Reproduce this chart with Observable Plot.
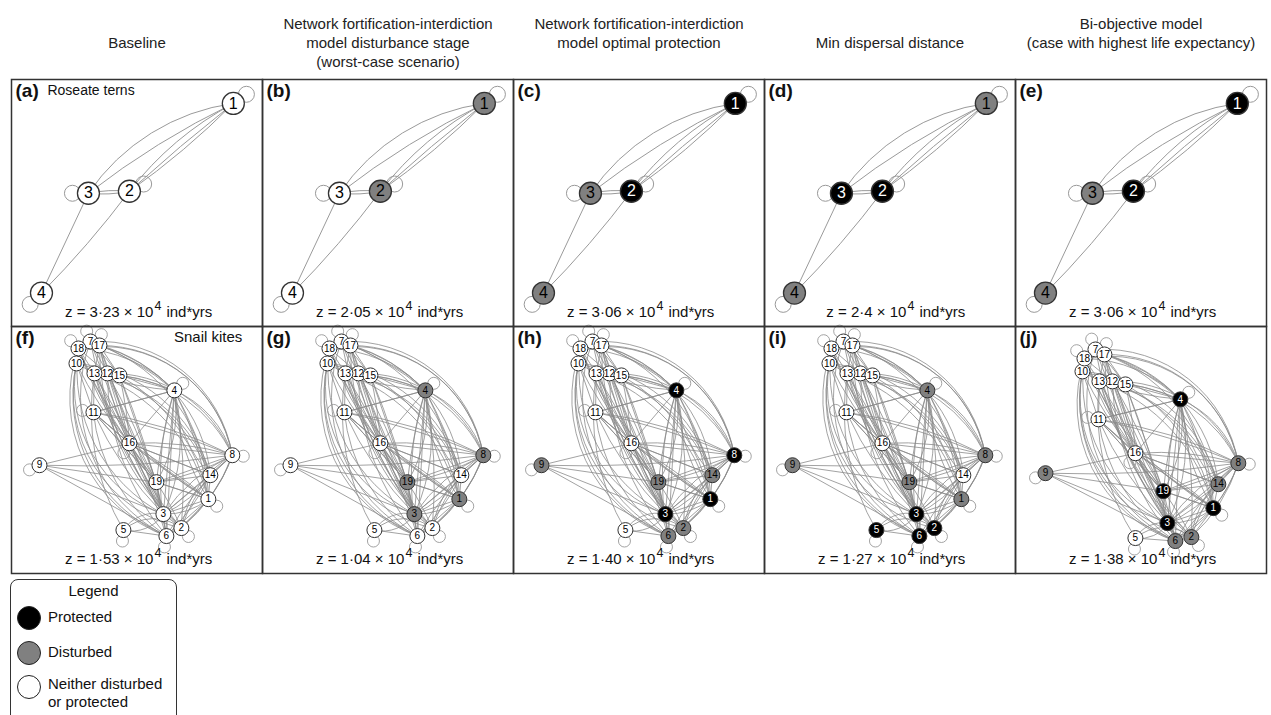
<!DOCTYPE html>
<html><head><meta charset="utf-8">
<script src="https://cdn.jsdelivr.net/npm/d3@7"></script>
<script src="https://cdn.jsdelivr.net/npm/@observablehq/plot@0.6"></script>
<style>
body{margin:0;background:#fff;font-family:"Liberation Sans",Arial,sans-serif;position:relative;width:1271px;height:715px;overflow:hidden;}
#legend{position:absolute;left:10px;top:579px;width:167px;height:170px;border:1.5px solid #333;border-radius:8px;box-sizing:border-box;color:#111;font-size:15px;}
#legend .lt{position:absolute;left:0;width:100%;top:2px;text-align:center;}
#legend .sw{position:absolute;left:6px;width:24px;height:24px;border-radius:50%;border:1.5px solid #222;box-sizing:border-box;}
#legend .tx{position:absolute;left:37px;line-height:18px;}
</style></head><body>
<div id="chart"></div>
<div id="legend">
  <div class="lt">Legend</div>
  <div class="sw" style="top:26px;background:#000"></div><div class="tx" style="top:28px">Protected</div>
  <div class="sw" style="top:61px;background:#808080"></div><div class="tx" style="top:63px">Disturbed</div>
  <div class="sw" style="top:95px;background:#fff"></div><div class="tx" style="top:95px">Neither disturbed<br>or protected</div>
</div>
<script>
// ---------- data ----------
const columns = ["a", "b", "c", "d", "e"];
const rowKeys = ["terns", "kites"];
const titleLines = [
  ["", "Baseline", ""],
  ["Network fortification-interdiction", "model disturbance stage", "(worst-case scenario)"],
  ["Network fortification-interdiction", "model optimal protection", ""],
  ["", "Min dispersal distance", ""],
  ["Bi-objective model", "(case with highest life expectancy)", ""]
];
const ternLetters = ["(a)", "(b)", "(c)", "(d)", "(e)"];
const kiteLetters = ["(f)", "(g)", "(h)", "(i)", "(j)"];
const ternZ = ["3·23", "2·05", "3·06", "2·4", "3·06"];
const kiteZ = ["1·53", "1·04", "1·40", "1·27", "1·38"];

// Roseate terns layout (ids 1..4)
const ternX = [222, 118, 77, 30];
const ternY = [24, 112, 114, 214];
const ternLoop = [-35, -27, 180, 135];
const ternEdges = [[3,1,24],[3,1,6],[2,1,12],[2,1,-5],[2,1,2],[2,3,9],[3,2,9],[3,4,0],[4,2,-4]];
const ternProtected = [[], [], [1, 2], [2, 3], [1, 2]];
const ternDisturbed = [[], [1, 2], [3, 4], [1, 4], [3, 4]];

// Snail kites layout (ids 1..19)
const kiteX  = [197,170,152,163,112,155, 79,221, 28, 65, 82, 96, 83,199,108,118, 88, 67,145];
const kiteY  = [173,202,188, 64,204,210, 15,129,139, 37, 86, 47, 47,149, 49,117, 19, 22,156];
const kiteXj = [198,176,152,165,120,160, 80,223, 30, 67, 83, 97, 84,203,110,120, 89, 69,148];
const kiteYj = [182,211,197, 73,212,215, 23,137,147, 45, 93, 55, 55,158, 58,127, 28, 32,165];
const kiteLoop = [40, 50, null, -40, 95, 100, -110, 5, 155, null, 190, null, null, null, null, 120, -80, -135, null];
const kiteEdges = [
 [18,17,0],[18,10,0],[10,13,0],[13,12,0],[12,15,0],[17,13,0],[18,13,0],[17,15,0],[7,12,0],[10,11,0],[13,11,0],[7,15,5],[18,12,0],[17,12,-5],[10,12,5],
 [15,4,0],[12,4,8],[13,4,-8],[17,4,15],[18,4,22],[7,4,10],
 [13,16,0],[12,16,0],[10,16,-8],[18,16,-10],[17,16,5],[15,16,5],[11,16,0],[7,16,0],
 [13,19,0],[15,19,0],[12,19,5],[17,19,-5],[11,19,0],[18,19,-8],
 [17,3,-10],[18,3,-35],[10,3,-40],[13,3,-8],[12,3,0],[15,3,5],[7,3,-12],[11,3,-10],
 [10,6,-40],[18,6,-45],[17,2,-25],[13,2,-15],[12,6,-20],[10,2,-45],[7,6,-42],[11,6,-25],[18,1,-20],[13,5,-20],
 [17,8,40],[15,8,30],[12,8,35],[13,14,30],[17,1,35],[18,8,45],[10,14,35],[15,1,25],[13,1,28],[12,14,22],[17,14,35],[7,8,42],
 [4,3,0],[4,1,10],[4,14,5],[4,19,-5],[4,6,0],[4,2,8],[4,16,0],[4,8,25],[4,11,0],[4,3,20],[4,19,20],[4,1,-15],[4,6,-15],[4,14,-20],
 [8,3,0],[8,19,0],[8,16,0],[8,1,10],[8,14,0],[8,2,15],[8,6,-10],[8,11,-5],[8,19,10],[8,3,-15],[8,16,-10],[8,6,20],[8,2,-25],
 [14,3,0],[14,1,0],[14,19,0],[14,6,10],[14,2,-10],[14,16,0],[14,3,15],
 [1,3,0],[1,2,0],[1,6,0],[1,19,0],[1,16,0],[1,3,20],
 [16,19,0],[16,3,0],[16,3,10],[16,14,0],[16,2,-10],[16,6,5],[16,1,5],[16,19,-12],
 [19,3,0],[19,6,0],[19,2,5],[19,1,0],[19,3,-12],
 [3,6,0],[3,2,0],[3,6,20],[2,6,0],
 [5,3,35],[3,5,35],[5,6,0],[5,2,40],
 [9,16,0],[9,8,-5],[9,3,0],[9,6,0],[9,19,0],
 [11,16,0],[11,19,0],[11,4,0],[11,8,10],[11,1,-5]
];
const kiteProtected = [[], [], [1, 3, 4, 8], [2, 3, 5, 6], [1, 3, 4, 19]];
const kiteDisturbed = [[], [1, 3, 4, 8, 19], [2, 6, 9, 14, 19], [1, 4, 8, 9, 19], [2, 6, 8, 9, 14]];

// ---------- tables ----------
const PW = 251.2, PH = 247.5;
const stateOf = (p, d, id) => p.includes(id) ? "protected" : d.includes(id) ? "disturbed" : "none";
const fillOf = {protected: "#000", disturbed: "#808080", none: "#fff"};

const nodes = [], edges = [], loops = [], titles = [], letters = [], caps = [];
const lineY = [-55, -36, -17];
columns.forEach((col, ci) => {
  titleLines[ci].forEach((t, li) => { if (t) titles.push({col, row: "terns", x: PW / 2, y: lineY[li], text: t}); });
  letters.push({col, row: "terns", text: ternLetters[ci]});
  letters.push({col, row: "kites", text: kiteLetters[ci]});
  caps.push({col, row: "terns", left: `z = ${ternZ[ci]} × 10`});
  caps.push({col, row: "kites", left: `z = ${kiteZ[ci]} × 10`});
  ternX.forEach((x, i) => {
    const id = i + 1, y = ternY[i];
    nodes.push({col, row: "terns", kind: "tern", id, x, y, state: stateOf(ternProtected[ci], ternDisturbed[ci], id)});
    const a = ternLoop[i] * Math.PI / 180;
    loops.push({col, row: "terns", kind: "tern", x: x + 16 * Math.cos(a), y: y + 16 * Math.sin(a)});
  });
  ternEdges.forEach(([s, t, b]) => edges.push({col, row: "terns", kind: "tern", bend: b,
    x1: ternX[s - 1], y1: ternY[s - 1], x2: ternX[t - 1], y2: ternY[t - 1]}));
  const kx = ci === 4 ? kiteXj : kiteX, ky = ci === 4 ? kiteYj : kiteY;
  kx.forEach((x, i) => {
    const id = i + 1, y = ky[i];
    nodes.push({col, row: "kites", kind: "kite", id, x, y, state: stateOf(kiteProtected[ci], kiteDisturbed[ci], id)});
    if (kiteLoop[i] !== null) {
      const a = kiteLoop[i] * Math.PI / 180;
      loops.push({col, row: "kites", kind: "kite", x: x + 11 * Math.cos(a), y: y + 11 * Math.sin(a)});
    }
  });
  kiteEdges.forEach(([s, t, b]) => edges.push({col, row: "kites", kind: "kite", bend: b,
    x1: kx[s - 1], y1: ky[s - 1], x2: kx[t - 1], y2: ky[t - 1]}));
});

const edgeMarks = d3.groups(edges, d => d.kind + "|" + d.bend).map(([, data]) =>
  Plot.arrow(data, {
    x1: "x1", y1: "y1", x2: "x2", y2: "y2", fx: "col", fy: "row",
    bend: data[0].bend, headLength: 0,
    stroke: data[0].kind === "tern" ? "#9a9a9a" : "#8a8a8a",
    strokeWidth: data[0].kind === "tern" ? 1 : 0.8
  }));

const F = {fx: "col", fy: "row"};
const chart = Plot.plot({
  width: 1271, height: 575,
  marginTop: 78, marginLeft: 10, marginRight: 5, marginBottom: 2,
  style: {fontFamily: "Liberation Sans, Arial, sans-serif", background: "#fff", overflow: "visible"},
  fx: {domain: columns, padding: 0, axis: null},
  fy: {domain: rowKeys, padding: 0, axis: null},
  x: {domain: [0, PW], axis: null},
  y: {domain: [0, PH], reverse: true, axis: null},
  marks: [
    ...edgeMarks,
    Plot.dot(loops.filter(d => d.kind === "tern"), {...F, x: "x", y: "y", r: 8, fill: "none", stroke: "#999", strokeWidth: 1}),
    Plot.dot(loops.filter(d => d.kind === "kite"), {...F, x: "x", y: "y", r: 6, fill: "none", stroke: "#999", strokeWidth: 0.9}),
    Plot.dot(nodes.filter(d => d.kind === "tern"), {...F, x: "x", y: "y", r: 11, fill: d => fillOf[d.state], stroke: "#333", strokeWidth: 1.3}),
    Plot.dot(nodes.filter(d => d.kind === "kite"), {...F, x: "x", y: "y", r: 7.5, fill: d => fillOf[d.state], stroke: "#333", strokeWidth: 1}),
    Plot.text(nodes.filter(d => d.kind === "tern"), {...F, x: "x", y: "y", text: "id", fontSize: 16, fill: d => d.state === "protected" ? "#fff" : "#000"}),
    Plot.text(nodes.filter(d => d.kind === "kite"), {...F, x: "x", y: "y", text: "id", fontSize: 10, fill: d => d.state === "protected" ? "#fff" : "#000"}),
    Plot.frame({stroke: "#333", strokeWidth: 1.5}),
    Plot.text(titles, {...F, x: "x", y: "y", text: "text", fontSize: 15, fill: "#222"}),
    Plot.text(letters, {...F, x: () => 4, y: () => 11, text: "text", fontSize: 19, fontWeight: "bold", textAnchor: "start", fill: "#111"}),
    Plot.text(letters.filter(d => d.text === "(a)"), {...F, x: () => 36, y: () => 11, text: () => "Roseate terns", fontSize: 14, textAnchor: "start", fill: "#111"}),
    Plot.text(letters.filter(d => d.text === "(f)"), {...F, x: () => 231, y: () => 11, text: () => "Snail kites", fontSize: 15, textAnchor: "end", fill: "#111"}),
    Plot.text(caps, {...F, x: () => 142, y: () => 233, text: "left", fontSize: 15, textAnchor: "end", fill: "#111"}),
    Plot.text(caps, {...F, x: () => 142, y: () => 233, text: () => "4", dx: 1, dy: -6, fontSize: 12.5, textAnchor: "start", fill: "#111"}),
    Plot.text(caps, {...F, x: () => 142, y: () => 233, text: () => "ind*yrs", dx: 13, fontSize: 15, textAnchor: "start", fill: "#111"})
  ]
});
document.getElementById("chart").appendChild(chart);
</script>
</body></html>
